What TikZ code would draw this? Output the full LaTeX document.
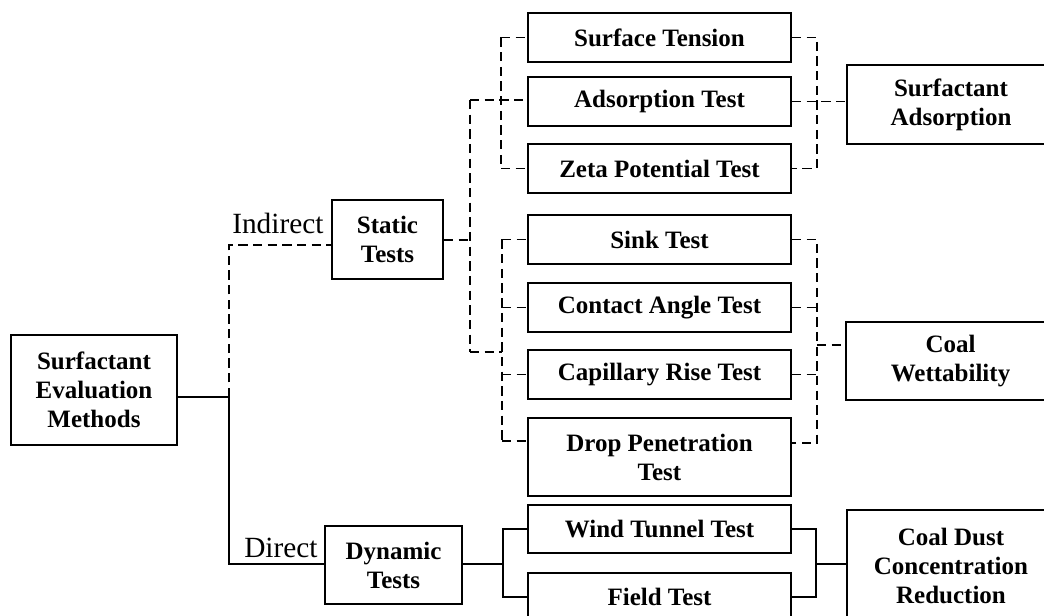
\documentclass[tikz,border=0pt]{standalone}
\usepackage{fontspec}
\setmainfont{Liberation Serif}
\begin{document}
\begin{tikzpicture}[x=0.75pt,y=-0.75pt,
  box/.style={draw, line width=1.5pt, align=center, inner sep=0pt,
    font=\bfseries\fontsize{18.75}{21.75}\selectfont},
  midbox/.style={box, minimum width=197.25pt, minimum height=36.75pt},
  conn/.style={line width=1.1pt},
  dconn/.style={line width=1.1pt, dash pattern=on 7pt off 4pt},
  lbl/.style={anchor=base west, inner sep=0pt, font=\fontsize{22}{26}\selectfont}]
\useasboundingbox (0,0) rectangle (1044,616);
\clip (0,0) rectangle (1044,616);
\fill[white] (0,0) rectangle (1044,616);

% boxes
\node[box, minimum width=124.5pt, minimum height=82.5pt] (sem) at (94,390) {Surfactant\\Evaluation\\Methods};
\node[box, minimum width=83.25pt, minimum height=59.25pt] (static) at (387.5,239.5) {Static\\Tests};
\node[box, minimum width=102.75pt, minimum height=58.5pt] (dyn) at (393.5,565) {Dynamic\\Tests};

\node[midbox] (st) at (659.5,37.5) {Surface Tension};
\node[midbox] (ad) at (659.5,101.5) {Adsorption Test};
\node[midbox] (zeta) at (659.5,168.5) {Zeta Potential Test};
\node[midbox] (sink) at (659.5,239.5) {Sink Test};
\node[midbox] (ca) at (659.5,307.5) {Contact Angle Test};
\node[midbox] (cap) at (659.5,374.5) {Capillary Rise Test};
\node[midbox, minimum height=58.5pt] (drop) at (659.5,457) {Drop Penetration\\Test};
\node[midbox, minimum height=36pt] (wt) at (659.5,529) {Wind Tunnel Test};
\node[midbox, minimum height=36pt] (ft) at (659.5,597) {Field Test};

\node[box, minimum width=156pt, minimum height=59.25pt] (sa) at (951,104.5) {Surfactant\\Adsorption};
\node[box, minimum width=156.75pt, minimum height=58.5pt] (cw) at (950.5,361) {Coal\\Wettability};
\node[box, minimum width=156pt, minimum height=84pt] (cd) at (951,566) {Coal Dust\\Concentration\\Reduction};

% labels
\node[lbl] (ind) at (232,234) {Indirect};
\node[lbl] (dir) at (244,557) {Direct};

% root connectors
\coordinate (j0) at (229,397);
\coordinate (jI) at (229,245);
\coordinate (jD) at (229,564);
\draw[conn] (sem.east |- j0) -- (j0) -- (jD) -- (dyn.west |- jD);
\draw[dconn] (j0) -- (jI) -- (static.west |- jI);

% static tests fan-out
\coordinate (s1) at (470,240);
\coordinate (s1top) at (470,100);
\coordinate (s1bot) at (470,352);
\coordinate (gA) at (501,0);
\coordinate (gB) at (502,0);
\coordinate (dropL) at (528,441);
\draw[dconn] (static.east |- s1) -- (s1);
\draw[dconn] (s1top) -- (s1bot);
\draw[dconn] (s1top) -- (ad.west |- s1top);
\draw[dconn] (s1bot) -- (gB |- s1bot);

% upper group left
\draw[dconn] (gA |- st.west) -- (gA |- zeta.west);
\draw[dconn] (gA |- st.west) -- (st.west);
\draw[dconn] (gA |- zeta.west) -- (zeta.west);

% lower group left
\draw[dconn] (gB |- sink.west) -- (gB |- dropL);
\draw[dconn] (gB |- sink.west) -- (sink.west);
\draw[dconn] (gB |- ca.west) -- (ca.west);
\draw[dconn] (gB |- cap.west) -- (cap.west);
\draw[dconn] (gB |- dropL) -- (dropL);

% upper group right
\coordinate (rA) at (817,0);
\draw[dconn] (st.east) -- (rA |- st.east) -- (rA |- zeta.east) -- (zeta.east);
\draw[dconn] (ad.east) -- (sa.west |- ad.east);

% lower group right
\coordinate (dropR) at (791,443);
\coordinate (cwj) at (817,345);
\draw[dconn] (sink.east) -- (rA |- sink.east) -- (rA |- dropR) -- (dropR);
\draw[dconn] (ca.east) -- (rA |- ca.east);
\draw[dconn] (cap.east) -- (rA |- cap.east);
\draw[dconn] (cwj) -- (cw.west |- cwj);

% dynamic tests
\coordinate (dL) at (503,564);
\coordinate (dR) at (816,564);
\draw[conn] (dyn.east |- dL) -- (dL);
\draw[conn] (wt.west) -- (dL |- wt.west) -- (dL |- ft.west) -- (ft.west);
\draw[conn] (wt.east) -- (dR |- wt.east) -- (dR |- ft.east) -- (ft.east);
\draw[conn] (dR) -- (cd.west |- dR);
\end{tikzpicture}
\end{document}
